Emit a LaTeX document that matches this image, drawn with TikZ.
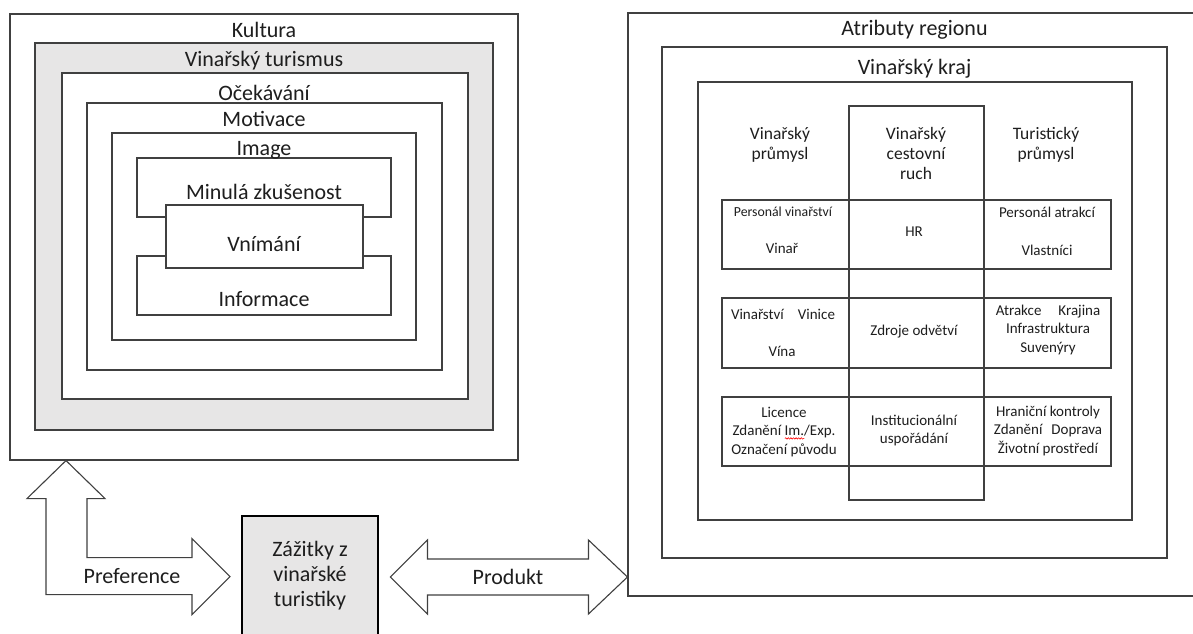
\documentclass[tikz,border=0pt]{standalone}
\usepackage{fontspec}
\setmainfont{Carlito}
\usepackage{tikz}
\usetikzlibrary{fit,calc,decorations.pathmorphing}
\definecolor{paneGray}{RGB}{231,230,230}
\definecolor{lineGray}{RGB}{64,64,64}
\definecolor{inkGray}{RGB}{30,30,30}
\tikzset{%
  frame/.style={%
    draw=lineGray,
    line width=1.1pt,
    inner sep=0pt
  },
  layertext/.style={%
    font=\fontsize{22}{25}\selectfont,
    text=inkGray,
    align=center,
    anchor=base,
    inner sep=0pt
  },
  headtext/.style={%
    layertext,
    font=\fontsize{17.5}{19.7}\selectfont
  },
  celltext/.style={%
    layertext,
    font=\fontsize{15}{18.5}\selectfont
  },
  blockarrow/.style={%
    draw=lineGray,
    line width=1.1pt,
    fill=white,
    line join=miter
  }
}
\newcommand{\typo}[1]{\setbox0=\hbox{#1}\rlap{\tikz[baseline=0pt]\draw[red,line width=0.6pt,decorate,decoration={snake,amplitude=0.7pt,segment length=2.6pt}] (0pt,-2.6pt) -- (\the\wd0,-2.6pt);}#1}

\begin{document}
\begin{tikzpicture}[x=1pt,y=-1pt]
  \useasboundingbox (0,0) rectangle (1193,633);
  \fill[white] (0,0) rectangle (1193,633);

  % left nest
  \node[frame, fill=white, fit={(10,14) (518,460)}] (kultura) {};
  \node[frame, fill=paneGray, fit={(35,43) (493,430)}] (turismus) {};
  \node[frame, fill=white, fit={(62,73) (468,399)}] (ocekavani) {};
  \node[frame, fill=white, fit={(87,103) (442,370)}] (motivace) {};
  \node[frame, fill=white, fit={(112,133) (416,340)}] (image) {};
  \node[frame, fill=white, fit={(137,158) (391,217)}] (minula) {};
  \node[frame, fill=white, fit={(137,256) (391,315)}] (informace) {};
  \node[frame, fill=white, fit={(166,205) (363,268)}] (vnimani) {};

  \node[layertext] (kulturaLbl) at (264, 37) {Kultura};
  \node[layertext] (turismusLbl) at (264, 66) {Vinařský turismus};
  \node[layertext] (ocekavaniLbl) at (264, 100) {Očekávání};
  \node[layertext] (motivaceLbl) at (264, 126) {Motivace};
  \node[layertext] (imageLbl) at (264, 155) {Image};
  \node[layertext] (minulaLbl) at (264, 199) {Minulá zkušenost};
  \node[layertext] (vnimaniLbl) at (264, 251) {Vnímání};
  \node[layertext] (informaceLbl) at (264, 306) {Informace};

  % right nest
  \node[frame, fill=white, fit={(628,13) (1201,596)}] (region) {};
  \node[frame, fill=white, fit={(662,47) (1167,558)}] (kraj) {};
  \node[frame, fill=white, fit={(698,82) (1132,520)}] (odvetvi) {};
  \node[frame, fit={(849,106) (984,500)}] (cestovni) {};
  \node[frame, fit={(722,200) (1111,269)}] (rowHR) {};
  \node[frame, fit={(722,298) (1111,368)}] (rowZdroje) {};
  \node[frame, fit={(722,397) (1111,466)}] (rowInst) {};

  \node[layertext] (regionLbl) at (914.5, 35) {Atributy regionu};
  \node[layertext] (krajLbl) at (914.5, 74) {Vinařský kraj};
  \node[headtext] (vinPrumysl) at (780, 159.5) {Vinařský\\průmysl};
  \node[headtext] (vinCestovni) at (916, 179) {Vinařský\\cestovní\\ruch};
  \node[headtext] (turPrumysl) at (1046, 159.5) {Turistický\\průmysl};

  \node[celltext, font=\fontsize{13.8}{18.5}\selectfont] (personalVin) at (783, 216.7) {Personál vinařství};
  \node[celltext] (vinar) at (782, 253.3) {Vinař};
  \node[celltext] (hr) at (914, 236.7) {HR};
  \node[celltext] (personalAtr) at (1047, 217.7) {Personál atrakcí};
  \node[celltext] (vlastnici) at (1047, 255) {Vlastníci};

  \node[celltext] (vinarstvi) at (783, 319.3) {Vinařství\hspace{14pt}Vinice};
  \node[celltext] (vina) at (782, 356) {Vína};
  \node[celltext] (zdroje) at (914, 335) {Zdroje odvětví};
  \node[celltext] (atrakce) at (1048, 352) {Atrakce\hspace{17pt}Krajina\\Infrastruktura\\Suvenýry};

  \node[celltext] (licence) at (784, 454.3) {Licence\\Zdanění \typo{Im.}/Exp.\\Označení původu};
  \node[celltext] (instituce) at (914, 443.8) {Institucionální\\uspořádání};
  \node[celltext] (hranice) at (1048, 453) {Hraniční kontroly\\Zdanění\hspace{9pt}Doprava\\Životní prostředí};

  % experience box and block arrows
  \node[frame, draw=black, line width=2pt, fill=paneGray, fit={(242,516) (378,720)}] (zazitky) {};
  \node[layertext] (zazitkyLbl) at (310, 606.7) {Zážitky z\\vinařské\\turistiky};

  \coordinate (upX) at (66, 0);
  \coordinate (upTip) at (kultura.south -| upX);
  \draw[blockarrow] (upTip) -- ++(39,38) -- ++(-18,0) -- ++(0,59) -- ++(105,0)
    -- ++(0,-19) -- ++(38,38) -- ++(-38,38) -- ++(0,-20) -- ++(-146,0)
    -- ++(0,-96) -- ++(-19,0) -- cycle;
  \node[layertext] (preferenceLbl) at (132, 583) {Preference};

  \coordinate (prodY) at (0, 577);
  \coordinate (prodTip) at (region.west |- prodY);
  \draw[blockarrow] (prodTip) -- ++(-39,-37) -- ++(0,19) -- ++(-161,0) -- ++(0,-19)
    -- ++(-37,37) -- ++(37,37) -- ++(0,-19) -- ++(161,0) -- ++(0,19) -- cycle;
  \node[layertext] (produktLbl) at (508, 584) {Produkt};
\end{tikzpicture}
\end{document}
